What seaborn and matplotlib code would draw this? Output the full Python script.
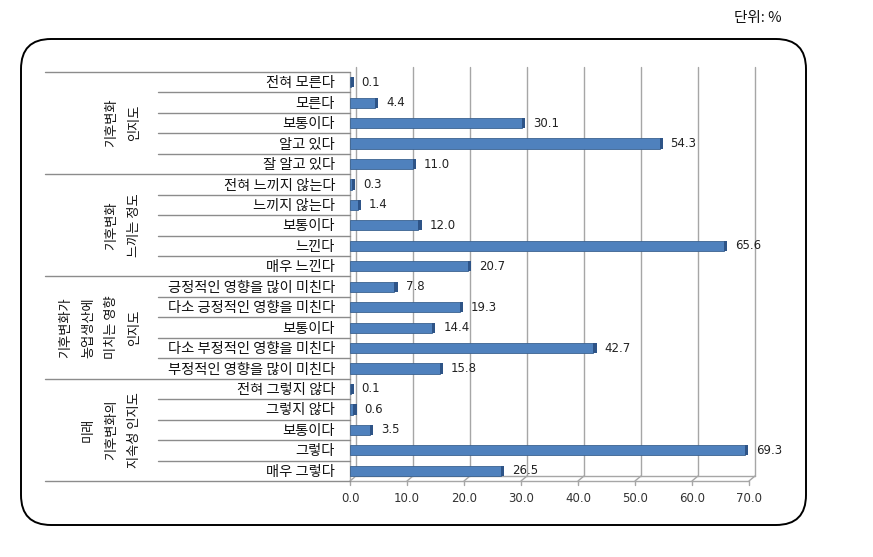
import matplotlib
matplotlib.use("Agg")
import matplotlib.pyplot as plt
import matplotlib.transforms as mtransforms
from matplotlib.patches import FancyBboxPatch, Rectangle
import seaborn as sns
import pandas as pd

sns.set_theme(style="white")
plt.rcParams['font.family'] = ['Noto Sans CJK KR', 'DejaVu Sans']

# ---------------- data ----------------
group_names = [
    "기후변화\n인지도",
    "기후변화\n느끼는 정도",
    "기후변화가\n농업생산에\n미치는 영향\n인지도",
    "미래\n기후변화의\n지속성 인지도",
]
g1_labels = ["전혀 모른다", "모른다", "보통이다", "알고 있다", "잘 알고 있다"]
g1_values = [0.1, 4.4, 30.1, 54.3, 11.0]
g2_labels = ["전혀 느끼지 않는다", "느끼지 않는다", "보통이다", "느낀다", "매우 느낀다"]
g2_values = [0.3, 1.4, 12.0, 65.6, 20.7]
g3_labels = ["긍정적인 영향을 많이 미친다", "다소 긍정적인 영향을 미친다", "보통이다",
             "다소 부정적인 영향을 미친다", "부정적인 영향을 많이 미친다"]
g3_values = [7.8, 19.3, 14.4, 42.7, 15.8]
g4_labels = ["전혀 그렇지 않다", "그렇지 않다", "보통이다", "그렇다", "매우 그렇다"]
g4_values = [0.1, 0.6, 3.5, 69.3, 26.5]
x_ticks = [0, 10, 20, 30, 40, 50, 60, 70]
unit_text = "단위: %"

labels = g1_labels + g2_labels + g3_labels + g4_labels
values = g1_values + g2_values + g3_values + g4_values
group_sizes = [len(g1_labels), len(g2_labels), len(g3_labels), len(g4_labels)]
df = pd.DataFrame({"row": [f"r{i}" for i in range(len(labels))],
                   "label": labels, "value": values})

# ---------------- figure ----------------
W, H = 873, 557
fig = plt.figure(figsize=(W / 100, H / 100), dpi=100)
fig.patch.set_facecolor("white")

# overlay axes in pixel coordinates
ov = fig.add_axes([0, 0, 1, 1], zorder=0)
ov.set_xlim(0, W)
ov.set_ylim(H, 0)
ov.axis("off")
ov.patch.set_alpha(0)
ov.add_patch(FancyBboxPatch((21, 39), 785, 486,
                            boxstyle="round,pad=0,rounding_size=30",
                            fill=False, edgecolor="black", linewidth=1.4))
ov.text(758, 18, unit_text, ha="center", va="center", fontsize=10.5,
        color="#111111")

# main axes
x0, x1, ytop, ybot = 350, 749, 72, 481
ax = fig.add_axes([x0 / W, 1 - ybot / H, (x1 - x0) / W, (ybot - ytop) / H], zorder=2)
ax.patch.set_alpha(0)

bw = 0.5
sns.barplot(data=df, x="value", y="row", orient="h", color="#4F81BD",
            saturation=1, width=bw, edgecolor="#3B6290", linewidth=0.6,
            ax=ax, errorbar=None, zorder=3)

n = len(labels)
ax.set_xlim(0, 70)
ax.set_ylim(n - 0.5, -0.5)
for s in ax.spines.values():
    s.set_visible(False)
ax.set_xlabel("")
ax.set_ylabel("")
ax.set_yticks([])
ax.set_xticks(x_ticks)
ax.set_xticklabels([f"{t:.1f}" for t in x_ticks], family="DejaVu Sans",
                   fontsize=8.5, color="#333333")
ax.tick_params(axis="x", length=0, pad=8)

# 3D-like gridlines (back wall offset)
off = mtransforms.ScaledTranslation(6 / 100, 5 / 100, fig.dpi_scale_trans)
back = ax.transData + off
grid_c = "#A6A6A6"
for t in x_ticks:
    ax.plot([t, t], [n - 0.5, -0.5], transform=back, color=grid_c, lw=1.0,
            zorder=1, clip_on=False)
# floor
ax.plot([0, 70], [n - 0.5, n - 0.5], color=grid_c, lw=1.0, zorder=2, clip_on=False)
ax.plot([0, 70], [n - 0.5, n - 0.5], transform=back, color=grid_c, lw=1.0,
        zorder=1, clip_on=False)
inv = ax.transData.inverted()
for t in x_ticks:
    a = inv.transform(ax.transData.transform((t, n - 0.5)))
    b = inv.transform(back.transform((t, n - 0.5)))
    ax.plot([a[0], b[0]], [a[1], b[1]], color=grid_c, lw=1.0, zorder=2, clip_on=False)
    c = inv.transform(ax.transData.transform((t, n - 0.5)) + [0, -4])
    ax.plot([t, t], [n - 0.5, c[1]], color=grid_c, lw=1.0, zorder=2, clip_on=False)
# left front wall line
ax.plot([0, 0], [n - 0.5, -0.5], color=grid_c, lw=1.0, zorder=2, clip_on=False)

# bar end caps and value labels
for i, v in enumerate(values):
    ax.add_patch(Rectangle((v, i - bw / 2), 0.55, bw, facecolor="#2E5487",
                           edgecolor="none", zorder=4))
    ax.annotate(f"{v:.1f}", xy=(v, i), xytext=(8, 0), textcoords="offset points",
                ha="left", va="center", fontsize=8.5, family="DejaVu Sans",
                color="#222222", zorder=5)

# category labels and separators
blend = mtransforms.blended_transform_factory(fig.transFigure, ax.transData)
sep_c = "#8C8C8C"
for i, lab in enumerate(labels):
    ax.text(335 / W, i + 0.05, lab, transform=blend, ha="right", va="center",
            fontsize=10.3, color="#111111")

boundaries = [-0.5]
acc = 0
for gs in group_sizes:
    acc += gs
    boundaries.append(acc - 0.5)
for k in range(n + 1):
    y = k - 0.5
    xs = 45 / W if y in boundaries else 158 / W
    ax.plot([xs, x0 / W], [y, y], transform=blend, color=sep_c, lw=1.0,
            clip_on=False, zorder=2)

# group labels
for gi, name in enumerate(group_names):
    yc = (boundaries[gi] + boundaries[gi + 1]) / 2
    ax.text(141 / W, yc, name, transform=blend, rotation=90, ha="right",
            va="center", multialignment="center", fontsize=9.5, linespacing=2.0,
            color="#111111")

fig.savefig("out.png", dpi=100, facecolor="white")
